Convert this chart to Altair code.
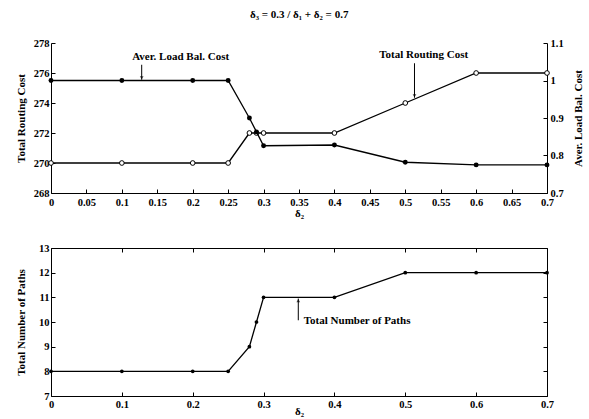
import altair as alt
import pandas as pd

# ---------------- data ----------------
delta2 = [0, 0.1, 0.2, 0.25, 0.28, 0.29, 0.3, 0.4, 0.5, 0.6, 0.7]
total_routing_cost = [270, 270, 270, 270, 272, 272, 272, 272, 274, 276, 276]
aver_load_bal_cost = [1.0, 1.0, 1.0, 1.0, 0.9, 0.863, 0.826, 0.828, 0.782, 0.775, 0.775]
total_num_paths = [8, 8, 8, 8, 9, 10, 11, 11, 12, 12, 12]

top_x_ticks = [0, 0.05, 0.1, 0.15, 0.2, 0.25, 0.3, 0.35, 0.4, 0.45, 0.5, 0.55, 0.6, 0.65, 0.7]
bottom_x_ticks = [0, 0.1, 0.2, 0.3, 0.4, 0.5, 0.6, 0.7]
routing_ticks = [268, 270, 272, 274, 276, 278]
load_ticks = [0.7, 0.8, 0.9, 1.0, 1.1]
paths_ticks = [7, 8, 9, 10, 11, 12, 13]

title_text = "δ₃ = 0.3 / δ₁ + δ₂ = 0.7"
x_title = "δ₂"

# annotations (data coordinates)
ann_top_label = ["Aver. Load Bal. Cost", "Total Routing Cost"]
ann_top_x = [0.183, 0.526]
ann_top_y = [277.05, 277.2]
arrow_top_x = [0.128, 0.513]
arrow_top_from = [276.55, 276.65]
arrow_top_to = [275.55, 274.35]

ann_bot_label = ["Total Number of Paths"]
ann_bot_x = [0.432]
ann_bot_y = [10.06]
arrow_bot_x = [0.349]
arrow_bot_from = [10.07]
arrow_bot_to = [10.95]

FONT = "Liberation Serif"


def ax_inward(orient, values, title=None, labels=True, **kw):
    return alt.Axis(
        orient=orient, values=values, offset=-4, tickSize=4, tickColor="black",
        tickWidth=1, domain=False, grid=False, labels=labels, format="~g",
        labelFont=FONT, labelFontSize=10.5, labelFontWeight="bold", labelColor="black",
        labelFlush=False, labelOverlap=False,
        title=title, titleFont=FONT, titleFontSize=11, titleFontWeight="bold",
        titleColor="black", **kw)


def ax_domain(orient):
    return alt.Axis(orient=orient, ticks=False, labels=False, grid=False,
                    domain=True, domainColor="black", domainWidth=1, title=None)


# ---------------- top panel ----------------
top_df = pd.DataFrame({"delta2": delta2, "routing": total_routing_cost,
                       "load": aver_load_bal_cost})
xs_top = alt.Scale(domain=[0, 0.7], nice=False, zero=False)
ys_route = alt.Scale(domain=[268, 278], nice=False, zero=False)
ys_load = alt.Scale(domain=[0.7, 1.1], nice=False, zero=False)

route = alt.Chart(top_df).mark_line(
    color="black", strokeWidth=1.3,
    point=alt.OverlayMarkDef(shape="circle", filled=False, fill="white",
                             stroke="black", strokeWidth=1, size=22),
).encode(
    x=alt.X("delta2:Q", scale=xs_top,
            axis=ax_inward("bottom", top_x_ticks, x_title, labelPadding=4,
                           titleY=24, titleBaseline="middle")),
    y=alt.Y("routing:Q", scale=ys_route,
            axis=ax_inward("left", routing_ticks, "Total Routing Cost",
                           labelPadding=2, titlePadding=7)),
)

load = alt.Chart(top_df).mark_line(
    color="black", strokeWidth=1.3,
    point=alt.OverlayMarkDef(shape="circle", filled=True, fill="black", size=24),
).encode(
    x=alt.X("delta2:Q", scale=xs_top, axis=None),
    y=alt.Y("load:Q", scale=ys_load,
            axis=ax_inward("right", load_ticks, "Aver. Load Bal. Cost", labelPadding=3,
                           titleAngle=270, titleBaseline="top", titlePadding=9)),
)

dom_left = alt.Chart(top_df).mark_line(strokeOpacity=0).encode(
    x=alt.X("delta2:Q", scale=xs_top, axis=ax_domain("bottom")),
    y=alt.Y("routing:Q", scale=ys_route, axis=ax_domain("left")),
)
dom_right = alt.Chart(top_df).mark_line(strokeOpacity=0).encode(
    x=alt.X("delta2:Q", scale=xs_top, axis=None),
    y=alt.Y("load:Q", scale=ys_load, axis=ax_domain("right")),
)

ann_top_df = pd.DataFrame({"x": ann_top_x, "y": ann_top_y, "label": ann_top_label})
arr_top_df = pd.DataFrame({"x": arrow_top_x, "y": arrow_top_from, "y2": arrow_top_to})

top_text = alt.Chart(ann_top_df).mark_text(
    font=FONT, fontSize=11, fontWeight="bold", color="black"
).encode(
    x=alt.X("x:Q", scale=xs_top, axis=None),
    y=alt.Y("y:Q", scale=ys_route, axis=None),
    text="label:N",
)
top_rule = alt.Chart(arr_top_df).mark_rule(color="black", strokeWidth=1).encode(
    x=alt.X("x:Q", scale=xs_top, axis=None),
    y=alt.Y("y:Q", scale=ys_route, axis=None),
    y2="y2:Q",
)
top_head = alt.Chart(arr_top_df).mark_point(
    shape="triangle-down", filled=True, color="black", size=14, yOffset=-2
).encode(
    x=alt.X("x:Q", scale=xs_top, axis=None),
    y=alt.Y("y2:Q", scale=ys_route, axis=None),
)

top = alt.layer(route, load, dom_left, dom_right, top_text, top_rule, top_head).resolve_scale(
    y="independent"
).resolve_axis(x="independent", y="independent").properties(
    width=496, height=150, view=alt.ViewBackground(stroke="transparent")
)

# ---------------- bottom panel ----------------
bot_df = pd.DataFrame({"delta2": delta2, "paths": total_num_paths})
xs_bot = alt.Scale(domain=[0, 0.7], nice=False, zero=False)
ys_paths = alt.Scale(domain=[7, 13], nice=False, zero=False)

paths = alt.Chart(bot_df).mark_line(
    color="black", strokeWidth=1.3,
    point=alt.OverlayMarkDef(shape="circle", filled=True, fill="black", size=14),
).encode(
    x=alt.X("delta2:Q", scale=xs_bot,
            axis=ax_inward("bottom", bottom_x_ticks, x_title, labelPadding=3,
                           titleY=19, titleBaseline="middle")),
    y=alt.Y("paths:Q", scale=ys_paths,
            axis=ax_inward("left", paths_ticks, "Total Number of Paths",
                           labelPadding=2, titlePadding=12)),
)
frame_ticks = alt.Chart(bot_df).mark_line(strokeOpacity=0).encode(
    x=alt.X("delta2:Q", scale=xs_bot, axis=ax_inward("top", bottom_x_ticks, None, labels=False)),
    y=alt.Y("paths:Q", scale=ys_paths, axis=ax_inward("right", paths_ticks, None, labels=False)),
)

ann_bot_df = pd.DataFrame({"x": ann_bot_x, "y": ann_bot_y, "label": ann_bot_label})
arr_bot_df = pd.DataFrame({"x": arrow_bot_x, "y": arrow_bot_from, "y2": arrow_bot_to})

bot_text = alt.Chart(ann_bot_df).mark_text(
    font=FONT, fontSize=11, fontWeight="bold", color="black"
).encode(
    x=alt.X("x:Q", scale=xs_bot, axis=None),
    y=alt.Y("y:Q", scale=ys_paths, axis=None),
    text="label:N",
)
bot_rule = alt.Chart(arr_bot_df).mark_rule(color="black", strokeWidth=1).encode(
    x=alt.X("x:Q", scale=xs_bot, axis=None),
    y=alt.Y("y:Q", scale=ys_paths, axis=None),
    y2="y2:Q",
)
bot_head = alt.Chart(arr_bot_df).mark_point(
    shape="triangle-up", filled=True, color="black", size=14, yOffset=2
).encode(
    x=alt.X("x:Q", scale=xs_bot, axis=None),
    y=alt.Y("y2:Q", scale=ys_paths, axis=None),
)

bottom = alt.layer(paths, frame_ticks, bot_text, bot_rule, bot_head).resolve_axis(
    x="independent", y="independent"
).properties(
    width=496, height=148, view=alt.ViewBackground(stroke="black", strokeWidth=1)
)

chart = alt.vconcat(top, bottom, spacing=23).properties(
    title=alt.TitleParams(text=title_text, font=FONT, fontSize=11, fontWeight="bold",
                          color="black", anchor="middle", offset=18),
    padding={"left": 14, "top": 8, "right": 3, "bottom": 2},
    background="white",
)

chart.save("out.html", embed_options={"renderer": "svg", "actions": False})
